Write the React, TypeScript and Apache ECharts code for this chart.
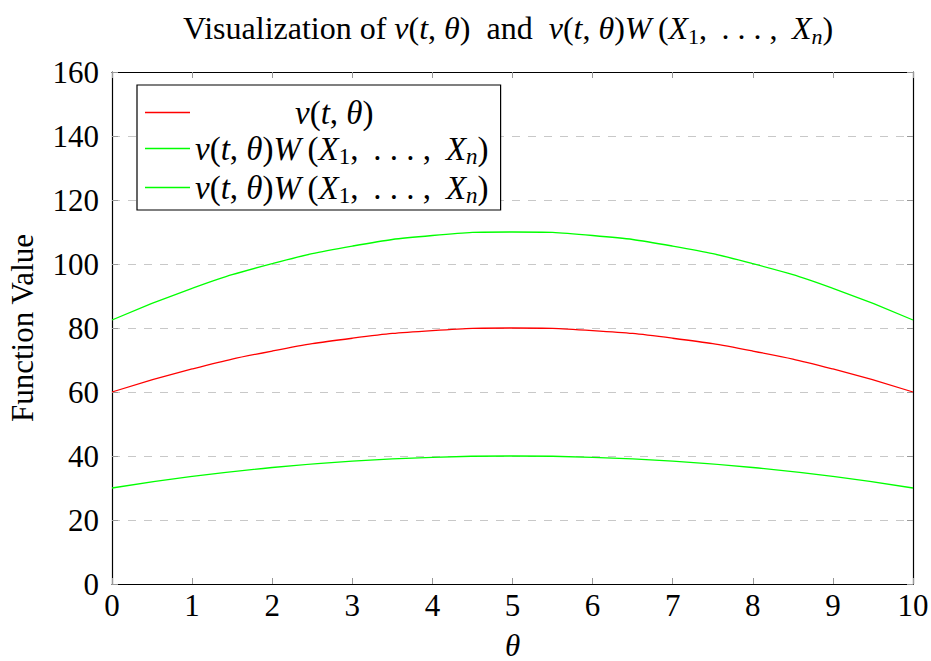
import React, { useEffect, useRef } from "react";
import * as echarts from "echarts";

const thetaValues = [0, 1, 2, 3, 4, 5, 6, 7, 8, 9, 10];
const nuValues = [60, 67.2, 72.8, 76.8, 79.2, 80, 79.2, 76.8, 72.8, 67.2, 60];
const nuWHighValues = [82.5, 92.4, 100.1, 105.6, 108.9, 110, 108.9, 105.6, 100.1, 92.4, 82.5];
const nuWLowValues = [30, 33.6, 36.4, 38.4, 39.6, 40, 39.6, 38.4, 36.4, 33.6, 30];
const seriesNames = ["nu", "nuW", "nuW2"];

const FONT = "Liberation Serif";

const mathRich = (size: number, spacer: number) => {
  const sub = Math.round(size * 0.7);
  return {
    n: { fontFamily: FONT, fontWeight: "normal", fontSize: size, color: "#000", lineHeight: size + 6 },
    i: { fontFamily: FONT, fontWeight: "normal", fontStyle: "italic", fontSize: size, color: "#000", lineHeight: size + 6 },
    s: { fontFamily: FONT, fontWeight: "normal", fontSize: sub, color: "#000", lineHeight: sub, verticalAlign: "bottom" },
    si: { fontFamily: FONT, fontWeight: "normal", fontStyle: "italic", fontSize: sub, color: "#000", lineHeight: sub, verticalAlign: "bottom" },
    sp: { fontFamily: FONT, fontSize: size, width: spacer, lineHeight: size + 6 },
  };
};

const T = "\u2009";
const nuText = "{i|ν}{n|(}{i|t}{n|, }{i|θ}{n|)}";
const nuWText = nuText + "{i|W" + T + "}{n|(}{i|X}{s|1}{n|," + T + " . . . ," + T + " }{i|X}{si|n}{n|)}";

export default function App() {
  const ref = useRef<HTMLDivElement>(null);
  useEffect(() => {
    document.body.style.margin = "0";
    const chart = echarts.init(ref.current!, null, { renderer: "svg" });
    const toData = (vals: number[]) => thetaValues.map((t, i) => [t, vals[i]]);
    const tickStyle = { show: true, inside: true, length: 6, lineStyle: { color: "#999", width: 1 } };
    const axisLine = { show: true, onZero: false, lineStyle: { color: "#000", width: 1.2 } };
    const labelStyle = { fontFamily: FONT, fontSize: 31, color: "#000" };
    chart.setOption({
      animation: false,
      backgroundColor: "#fff",
      title: {
        text: "{n|Visualization of }" + nuText + "{n|  and  }" + nuWText,
        left: 178,
        top: 4,
        textStyle: { rich: mathRich(32, 0) },
      },
      grid: { left: 112, top: 72, width: 801, height: 512, outerBoundsMode: "none" },
      legend: {
        orient: "vertical",
        left: 137,
        top: 85,
        backgroundColor: "#fff",
        borderColor: "#000",
        borderWidth: 1.2,
        borderRadius: 0,
        padding: [11, 12, 3, 8],
        itemGap: 3,
        itemWidth: 45,
        itemHeight: 1.5,
        icon: "rect",
        data: seriesNames,
        formatter: (name: string) => (name === "nu" ? "{sp| }" + nuText : nuWText),
        textStyle: { rich: mathRich(33, 100) },
      },
      xAxis: [
        {
          type: "value",
          min: 0,
          max: 10,
          interval: 1,
          position: "bottom",
          axisLine,
          axisTick: tickStyle,
          axisLabel: { ...labelStyle, margin: 6 },
          splitLine: { show: false },
          name: "θ",
          nameLocation: "middle",
          nameGap: 47,
          nameTextStyle: { ...labelStyle, fontStyle: "italic", lineHeight: 28 },
        },
        {
          type: "value",
          min: 0,
          max: 10,
          interval: 1,
          position: "top",
          axisLine,
          axisTick: tickStyle,
          axisLabel: { show: false },
          splitLine: { show: false },
        },
      ],
      yAxis: [
        {
          type: "value",
          min: 0,
          max: 160,
          interval: 20,
          position: "left",
          axisLine,
          axisTick: tickStyle,
          axisLabel: { ...labelStyle, margin: 13 },
          splitLine: { show: true, lineStyle: { color: "#c8c8c8", type: [8, 8], width: 1 } },
          name: "Function Value",
          nameLocation: "middle",
          nameGap: 74,
          nameRotate: 90,
          nameTextStyle: labelStyle,
        },
        {
          type: "value",
          min: 0,
          max: 160,
          interval: 20,
          position: "right",
          axisLine,
          axisTick: tickStyle,
          axisLabel: { show: false },
          splitLine: { show: false },
        },
      ],
      series: [
        { name: seriesNames[0], type: "line", data: toData(nuValues), smooth: true, showSymbol: false, color: "#ff0000", lineStyle: { width: 1.3 } },
        { name: seriesNames[1], type: "line", data: toData(nuWHighValues), smooth: true, showSymbol: false, color: "#00ff00", lineStyle: { width: 1.3 } },
        { name: seriesNames[2], type: "line", data: toData(nuWLowValues), smooth: true, showSymbol: false, color: "#00ff00", lineStyle: { width: 1.3 } },
      ],
    });
    return () => chart.dispose();
  }, []);
  return <div ref={ref} style={{ width: 931, height: 661 }} />;
}
